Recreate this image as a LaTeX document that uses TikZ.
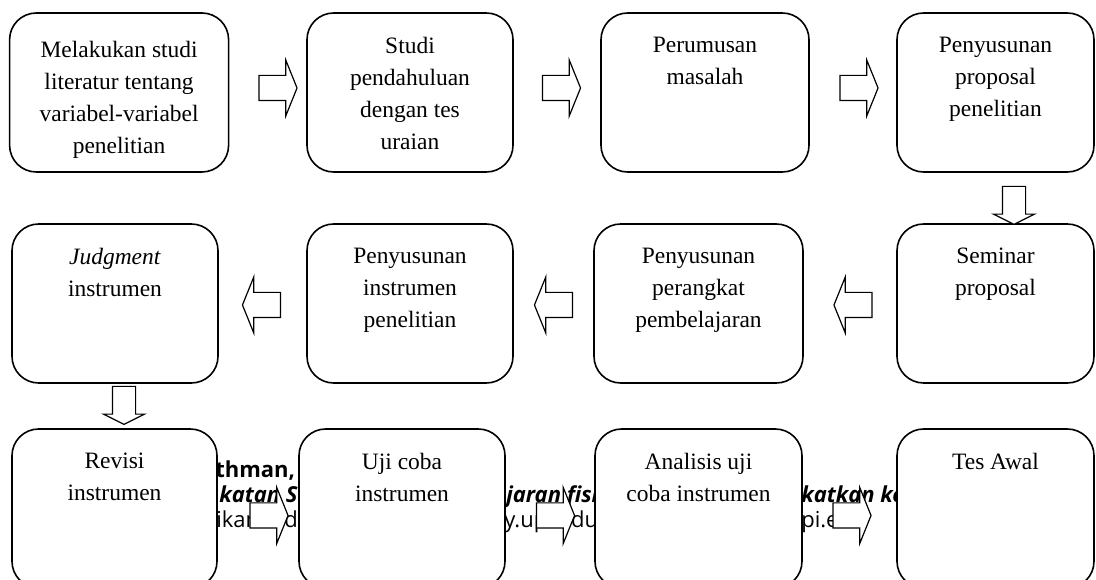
\documentclass[tikz,border=0pt]{standalone}
\usepackage{fontspec}
\setmainfont{Liberation Serif}
\newfontfamily\footfont{Open Sans}
\usetikzlibrary{positioning, fit, shapes.arrows}

\begin{document}
\begin{tikzpicture}[x=0.75pt, y=-0.75pt,
  stage/.style={draw, line width=1.2pt, rounded corners=20pt, fill=white, inner sep=0pt},
  stagetext/.style={anchor=north, align=center, inner sep=0pt,
    font=\fontsize{17.6pt}{24pt}\selectfont},
  flow/.style={single arrow, draw, fill=white, line width=0.9pt,
    inner xsep=0pt, inner ysep=9pt, minimum height=28.5pt,
    single arrow head extend=11.6pt, single arrow tip angle=136},
  flowback/.style={flow, shape border rotate=180},
  flowdown/.style={flow, shape border rotate=270, inner xsep=8.25pt, inner ysep=0pt,
    single arrow head extend=6.75pt, single arrow tip angle=127},
  footline/.style={anchor=base west, inner sep=0pt,
    font=\footfont\fontsize{16.5pt}{19pt}\selectfont#1},
  footline/.default={}]
\useasboundingbox (0,0) rectangle (1096,580);

% page footer showing through behind the chart
\node (f1) [footline=\bfseries] at (215,478) {thman,};
\node (f2) [footline=\bfseries\itshape] at (219,503) {katan Sa};
\node (f3) [footline] at (216,528) {ikan Indo};
\node (f4) [footline=\bfseries\itshape] at (506,503) {jaran fisi};
\node (f5) [footline] at (504,528) {y.upi.edu};
\node (f6) [footline=\bfseries\itshape] at (801,503) {katkan ke};
\node (f7) [footline] at (801,528) {pi.edu};

% row 1
\node (s1) [stage, fit={(9.6,13) (228.6,172)}] {};
\node (s2) [stage, fit={(307,13) (513,172)}] {};
\node (s3) [stage, fit={(601,13) (809,172)}] {};
\node (s4) [stage, fit={(897,13) (1094,172)}] {};
% row 2
\node (s5) [stage, fit={(897,224) (1094,383)}] {};
\node (s6) [stage, fit={(594,224) (803,383)}] {};
\node (s7) [stage, fit={(307,224) (513,383)}] {};
\node (s8) [stage, fit={(12,224) (218,383)}] {};
% row 3
\node (s9) [stage, fit={(12,429) (217,588)}] {};
\node (s10) [stage, fit={(299,429) (505,588)}] {};
\node (s11) [stage, fit={(595,429) (802,588)}] {};
\node (s12) [stage, fit={(897,429) (1094,588)}] {};

\node (s1t) [stagetext, below=21.5pt of s1.north] {Melakukan studi\\literatur tentang\\variabel-variabel\\penelitian};
\node (s2t) [stagetext, below=18.4pt of s2.north] {Studi\\pendahuluan\\dengan tes\\uraian};
\node (s3t) [stagetext, below=18.4pt of s3.north] {Perumusan\\masalah};
\node (s4t) [stagetext, below=18.4pt of s4.north] {Penyusunan\\proposal\\penelitian};
\node (s5t) [stagetext, below=18.4pt of s5.north] {Seminar\\proposal};
\node (s6t) [stagetext, below=18.4pt of s6.north] {Penyusunan\\perangkat\\pembelajaran};
\node (s7t) [stagetext, below=18.4pt of s7.north] {Penyusunan\\instrumen\\penelitian};
\node (s8t) [stagetext, below=18.4pt of s8.north] {\textit{Judgment}\\instrumen};
\node (s9t) [stagetext, below=18.4pt of s9.north] {Revisi\\instrumen};
\node (s10t) [stagetext, below=18.4pt of s10.north] {Uji coba\\instrumen};
\node (s11t) [stagetext, below=18.4pt of s11.north] {Analisis uji\\coba instrumen};
\node (s12t) [stagetext, below=18.4pt of s12.north] {Tes Awal};

% block arrows
\node (a1) [flow] at (275.5,88) {};
\node (a2) [flow] at (559,88) {};
\node (a3) [flow] at (856.5,88) {};
\node (d1) [flowdown] at (1014,202.5) {};
\node (b3) [flowback] at (855.5,305) {};
\node (b2) [flowback] at (556,305) {};
\node (b1) [flowback] at (264,305) {};
\node (d2) [flowdown] at (124,402.5) {};
\node (c1) [flow] at (266.5,515.5) {};
\node (c2) [flow] at (553,515.5) {};
\node (c3) [flow] at (849.5,515.5) {};
\end{tikzpicture}
\end{document}
